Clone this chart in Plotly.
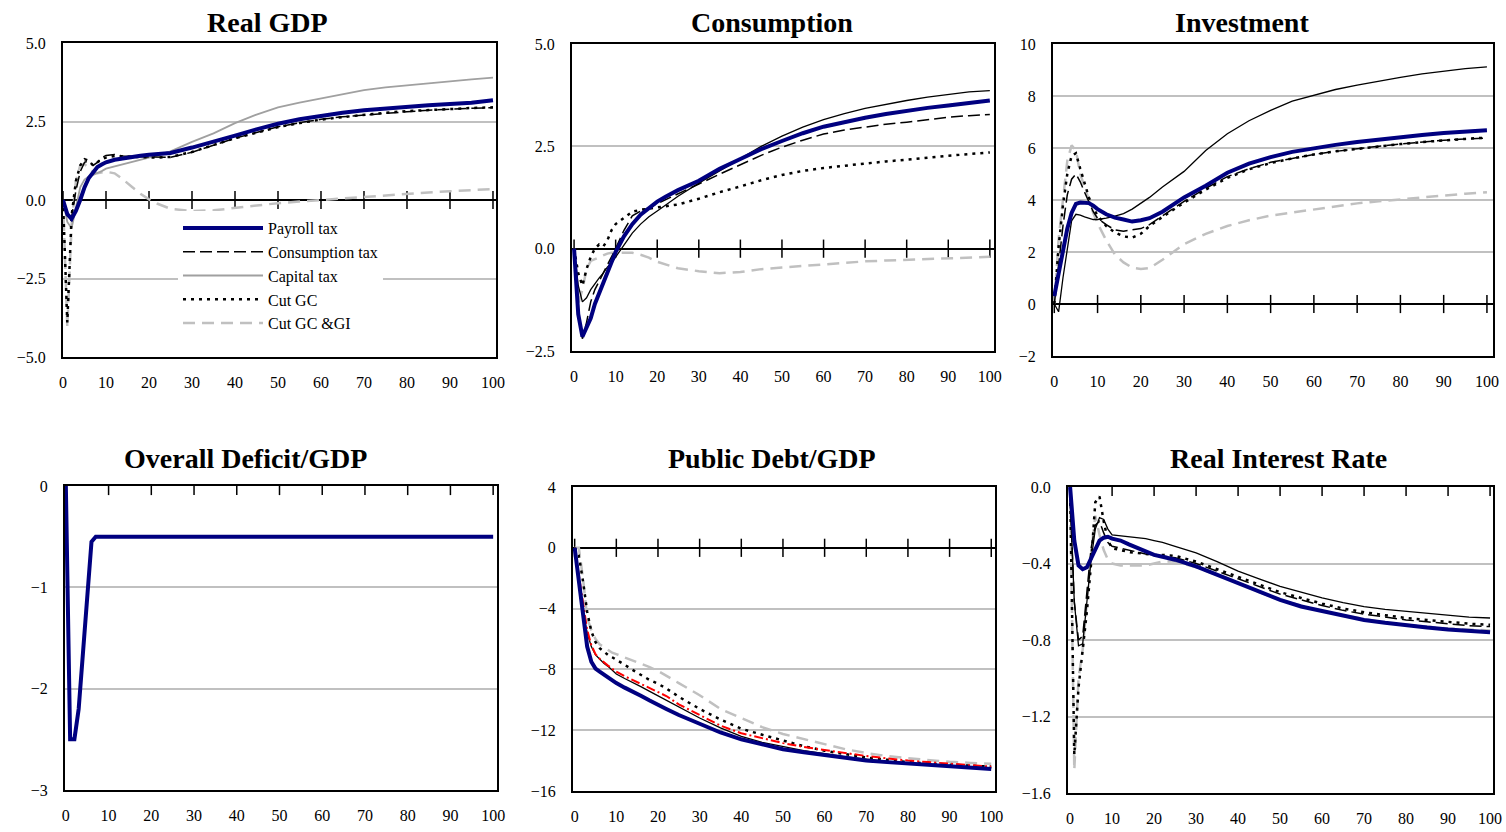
import plotly.graph_objects as go

# ---------------- data ----------------
YEARS = [0, 1, 2, 3, 4, 5, 6, 7, 8, 9, 10, 12, 14, 16, 18, 20, 22, 25,
         30, 35, 40, 45, 50, 55, 60, 65, 70, 75, 80, 85, 90, 95, 100]
XTICKS = [0, 10, 20, 30, 40, 50, 60, 70, 80, 90, 100]

SERIES_NAMES = {"payroll": "Payroll tax", "cons": "Consumption tax", "cap": "Capital tax",
                "cutgc": "Cut GC", "cutgi": "Cut GC &GI"}

# Real GDP
gdp_payroll = [0.0, -0.45, -0.6, -0.35, 0.0, 0.4, 0.7, 0.88, 1.05, 1.13, 1.2,
               1.28, 1.33, 1.37, 1.41, 1.44, 1.46, 1.5,
               1.67, 1.85, 2.05, 2.25, 2.43, 2.57, 2.68, 2.78, 2.86, 2.92, 2.97, 3.02, 3.06, 3.1, 3.18]
gdp_cons = [0.0, -0.5, -0.55, 0.3, 0.9, 1.2, 1.25, 1.1, 1.2, 1.35, 1.42,
            1.45, 1.4, 1.38, 1.38, 1.37, 1.36, 1.36,
            1.52, 1.75, 1.97, 2.15, 2.33, 2.46, 2.57, 2.65, 2.71, 2.77, 2.81, 2.86, 2.9, 2.92, 2.94]
gdp_cap = [0.0, -0.7, -0.9, -0.2, 0.4, 0.65, 0.75, 0.8, 0.85, 0.92, 1.0,
           1.07, 1.13, 1.2, 1.28, 1.35, 1.42, 1.55,
           1.85, 2.12, 2.45, 2.72, 2.95, 3.1, 3.24, 3.38, 3.5, 3.59, 3.66, 3.72, 3.78, 3.84, 3.9]
gdp_cutgc = [0.0, -3.9, -0.5, 0.6, 1.1, 1.3, 1.25, 1.1, 1.2, 1.3, 1.35,
             1.4, 1.38, 1.38, 1.37, 1.36, 1.35, 1.37,
             1.53, 1.76, 1.97, 2.14, 2.32, 2.45, 2.56, 2.64, 2.72, 2.78, 2.83, 2.87, 2.91, 2.93, 2.95]
gdp_cutgi = [0.0, -4.05, -0.8, 0.6, 1.1, 1.15, 1.0, 0.9, 0.85, 0.88, 0.9,
             0.85, 0.65, 0.42, 0.2, 0.02, -0.12, -0.28,
             -0.35, -0.33, -0.25, -0.17, -0.1, -0.05, 0.0, 0.05, 0.11, 0.16, 0.2, 0.24, 0.28, 0.31, 0.35]

# Consumption
cons_payroll = [0.0, -1.6, -2.15, -1.95, -1.7, -1.35, -1.1, -0.85, -0.62, -0.35, -0.08,
                0.3, 0.6, 0.83, 1.0, 1.15, 1.27, 1.43,
                1.66, 1.95, 2.19, 2.43, 2.63, 2.82, 2.98, 3.1, 3.2, 3.29, 3.37, 3.44, 3.5, 3.56, 3.62]
cons_cons = [0.0, -1.5, -2.2, -1.8, -1.3, -1.0, -0.8, -0.6, -0.4, -0.2, 0.0,
             0.45, 0.8, 0.92, 1.0, 1.1, 1.2, 1.35,
             1.58, 1.82, 2.05, 2.28, 2.48, 2.65, 2.8, 2.9, 2.97, 3.04, 3.09, 3.15, 3.21, 3.25, 3.28]
cons_cap = [0.0, -0.9, -1.3, -1.2, -1.0, -0.85, -0.72, -0.6, -0.45, -0.35, -0.2,
            0.1, 0.38, 0.6, 0.78, 0.92, 1.07, 1.28,
            1.6, 1.9, 2.2, 2.5, 2.75, 2.97, 3.15, 3.3, 3.43, 3.53, 3.62, 3.7, 3.77, 3.83, 3.86]
cons_cutgc = [0.0, -0.6, -0.9, -0.5, -0.2, 0.0, 0.1, 0.05, 0.2, 0.45, 0.6,
              0.75, 0.9, 0.95, 0.98, 1.0, 1.03, 1.08,
              1.22, 1.38, 1.52, 1.67, 1.8, 1.9, 1.97, 2.03, 2.08, 2.13, 2.17, 2.22, 2.27, 2.31, 2.35]
cons_cutgi = [0.0, -1.35, -1.0, -0.5, -0.3, -0.25, -0.2, -0.15, -0.12, -0.1, -0.1,
              -0.1, -0.1, -0.15, -0.22, -0.32, -0.38, -0.48,
              -0.55, -0.6, -0.57, -0.5, -0.46, -0.42, -0.38, -0.35, -0.31, -0.29, -0.27, -0.25, -0.23, -0.21, -0.2]

# Investment
inv_payroll = [0.3, 1.2, 2.1, 2.9, 3.5, 3.85, 3.9, 3.9, 3.88, 3.78, 3.65,
               3.45, 3.32, 3.25, 3.17, 3.22, 3.3, 3.55,
               4.1, 4.55, 5.05, 5.4, 5.65, 5.85, 6.0, 6.12, 6.23, 6.33, 6.43, 6.5, 6.58, 6.63, 6.68]
inv_cons = [0.0, 1.5, 3.0, 4.2, 4.8, 5.0, 4.7, 4.3, 3.9, 3.55, 3.3,
            3.05, 2.85, 2.8, 2.85, 2.9, 3.05, 3.4,
            3.95, 4.45, 4.9, 5.2, 5.45, 5.6, 5.75, 5.87, 5.98, 6.07, 6.15, 6.23, 6.3, 6.35, 6.38]
inv_cap = [0.0, -0.3, 1.0, 2.2, 3.2, 3.45, 3.42, 3.35, 3.3, 3.25, 3.25,
           3.3, 3.38, 3.48, 3.65, 3.88, 4.1, 4.5,
           5.1, 5.9, 6.55, 7.05, 7.45, 7.8, 8.03, 8.25, 8.42, 8.58, 8.72, 8.85, 8.95, 9.05, 9.12]
inv_cutgc = [0.0, 2.2, 3.8, 5.0, 5.7, 5.8, 5.2, 4.6, 4.1, 3.7, 3.4,
             3.0, 2.75, 2.6, 2.55, 2.7, 3.0, 3.35,
             3.9, 4.4, 4.85, 5.18, 5.42, 5.6, 5.75, 5.87, 5.97, 6.07, 6.15, 6.23, 6.3, 6.35, 6.4]
inv_cutgi = [0.0, 2.5, 4.0, 5.5, 6.1, 5.9, 5.0, 4.5, 4.0, 3.5, 3.1,
             2.45, 1.9, 1.6, 1.4, 1.35, 1.38, 1.7,
             2.3, 2.7, 3.0, 3.22, 3.4, 3.52, 3.63, 3.75, 3.87, 3.95, 4.03, 4.1, 4.17, 4.24, 4.3]

# Overall deficit / GDP
def_payroll = [0.0, -2.5, -2.5, -2.2, -1.65, -1.1, -0.55, -0.5, -0.5, -0.5, -0.5,
               -0.5, -0.5, -0.5, -0.5, -0.5, -0.5, -0.5,
               -0.5, -0.5, -0.5, -0.5, -0.5, -0.5, -0.5, -0.5, -0.5, -0.5, -0.5, -0.5, -0.5, -0.5, -0.5]

# Public debt / GDP
debt_payroll = [0.0, -2.2, -4.6, -6.5, -7.5, -7.95, -8.15, -8.35, -8.55, -8.75, -8.9,
                -9.2, -9.45, -9.75, -10.05, -10.35, -10.6, -11.0,
                -11.6, -12.15, -12.6, -12.95, -13.25, -13.45, -13.65, -13.85, -14.0, -14.1, -14.2, -14.3, -14.4, -14.5, -14.55]
debt_cons = [0.0, -1.8, -3.9, -5.4, -6.4, -7.0, -7.3, -7.55, -7.75, -7.95, -8.15,
             -8.45, -8.7, -8.95, -9.2, -9.5, -9.75, -10.3,
             -11.0, -11.7, -12.2, -12.55, -12.85, -13.1, -13.3, -13.5, -13.7, -13.85, -14.0, -14.1, -14.2, -14.3, -14.4]
debt_cap = [0.0, -2.0, -4.2, -5.6, -6.5, -7.05, -7.35, -7.6, -7.8, -8.05, -8.3,
            -8.6, -8.85, -9.15, -9.45, -9.75, -10.05, -10.5,
            -11.2, -11.85, -12.4, -12.8, -13.1, -13.35, -13.55, -13.75, -13.9, -14.05, -14.15, -14.25, -14.35, -14.45, -14.5]
debt_cutgc = [0.0, -0.5, -2.2, -4.2, -5.5, -6.2, -6.6, -6.85, -7.05, -7.2, -7.35,
              -7.7, -8.05, -8.4, -8.7, -8.95, -9.25, -9.8,
              -10.6, -11.3, -11.9, -12.3, -12.7, -13.05, -13.35, -13.6, -13.8, -13.95, -14.1, -14.2, -14.28, -14.35, -14.4]
debt_cutgi = [0.0, 0.0, -2.0, -4.6, -5.4, -6.0, -6.35, -6.55, -6.75, -6.9, -7.0,
              -7.2, -7.4, -7.6, -7.85, -8.1, -8.4, -8.9,
              -9.7, -10.6, -11.2, -11.8, -12.25, -12.6, -12.95, -13.25, -13.5, -13.7, -13.85, -13.98, -14.08, -14.15, -14.2]

# Real interest rate
int_payroll = [0.0, -0.28, -0.41, -0.43, -0.42, -0.37, -0.32, -0.28, -0.265, -0.26, -0.27,
               -0.28, -0.3, -0.32, -0.34, -0.355, -0.365, -0.38,
               -0.415, -0.46, -0.5, -0.55, -0.59, -0.625, -0.65, -0.675, -0.695, -0.71, -0.725, -0.735, -0.745, -0.755, -0.76]
int_cons = [-0.05, -0.6, -0.8, -0.78, -0.55, -0.32, -0.2, -0.18, -0.24, -0.29, -0.31,
            -0.32, -0.33, -0.34, -0.35, -0.355, -0.36, -0.37,
            -0.4, -0.44, -0.48, -0.52, -0.56, -0.59, -0.62, -0.645, -0.665, -0.68, -0.695, -0.705, -0.715, -0.725, -0.73]
int_cap = [-0.05, -0.6, -0.83, -0.82, -0.6, -0.38, -0.22, -0.16, -0.17, -0.22, -0.25,
           -0.255, -0.26, -0.265, -0.27, -0.28, -0.29, -0.31,
           -0.345, -0.39, -0.44, -0.48, -0.52, -0.55, -0.58, -0.605, -0.625, -0.64, -0.65, -0.66, -0.67, -0.68, -0.685]
int_cutgc = [0.0, -1.4, -1.05, -0.85, -0.65, -0.4, -0.08, -0.05, -0.18, -0.28, -0.32,
             -0.33, -0.34, -0.345, -0.35, -0.355, -0.355, -0.36,
             -0.39, -0.43, -0.47, -0.51, -0.55, -0.58, -0.61, -0.635, -0.655, -0.67, -0.685, -0.695, -0.705, -0.715, -0.72]
int_cutgi = [0.0, -1.48, -1.0, -0.85, -0.6, -0.35, -0.15, -0.25, -0.33, -0.38, -0.4,
             -0.41, -0.41, -0.41, -0.41, -0.4, -0.39, -0.39,
             -0.42, -0.46, -0.5, -0.55, -0.59, -0.62, -0.65, -0.67, -0.69, -0.71, -0.72, -0.73, -0.74, -0.745, -0.75]

# ---------------- styling / layout ----------------
W, H = 1506, 832
FONT = "Liberation Serif"
NAVY = "#000080"

STYLE = {
    "payroll": dict(color=NAVY, width=4, dash="solid"),
    "cons": dict(color="black", width=1.5, dash="12px,5px"),
    "cap": dict(color="black", width=1.3, dash="solid"),
    "cutgc": dict(color="black", width=2.5, dash="3px,5px"),
    "cutgi": dict(color="#c0c0c0", width=2.5, dash="12px,7px"),
}
GDP_OVERRIDE = {"cap": dict(color="#a0a0a0", width=1.8, dash="solid")}
DEBT_OVERRIDE = {"cons": dict(color="#ff0000", width=2, dash="9px,3px,2px,3px")}

PANELS = [
    dict(title="Real GDP", px=(63, 496, 43, 357), xr=[0, 100.7], yr=[-5, 5],
         yt=[-5, -2.5, 0, 2.5, 5], dec=1, tpos=(267, 23), override=GDP_OVERRIDE,
         data=dict(payroll=gdp_payroll, cons=gdp_cons, cap=gdp_cap, cutgc=gdp_cutgc, cutgi=gdp_cutgi)),
    dict(title="Consumption", px=(572, 994, 44, 351), xr=[-0.5, 101], yr=[-2.5, 5],
         yt=[-2.5, 0, 2.5, 5], dec=1, tpos=(772, 23), override={},
         data=dict(payroll=cons_payroll, cons=cons_cons, cap=cons_cap, cutgc=cons_cutgc, cutgi=cons_cutgi)),
    dict(title="Investment", px=(1053, 1493, 44, 356), xr=[-0.3, 101.4], yr=[-2, 10],
         yt=[-2, 0, 2, 4, 6, 8, 10], dec=0, tpos=(1242, 23), override={},
         data=dict(payroll=inv_payroll, cons=inv_cons, cap=inv_cap, cutgc=inv_cutgc, cutgi=inv_cutgi)),
    dict(title="Overall Deficit/GDP", px=(65, 497, 486, 790), xr=[-0.2, 100.9], yr=[-3, 0],
         yt=[-3, -2, -1, 0], dec=0, tpos=(245, 458), override={},
         data=dict(payroll=def_payroll)),
    dict(title="Public Debt/GDP", px=(573, 995, 487, 791), xr=[-0.4, 100.9], yr=[-16, 4],
         yt=[-16, -12, -8, -4, 0, 4], dec=0, tpos=(772, 458), override=DEBT_OVERRIDE,
         data=dict(payroll=debt_payroll, cons=debt_cons, cap=debt_cap, cutgc=debt_cutgc, cutgi=debt_cutgi)),
    dict(title="Real Interest Rate", px=(1068, 1493, 487, 793), xr=[-0.5, 100.7], yr=[-1.6, 0],
         yt=[-1.6, -1.2, -0.8, -0.4, 0], dec=1, tpos=(1278, 458), override={},
         data=dict(payroll=int_payroll, cons=int_cons, cap=int_cap, cutgc=int_cutgc, cutgi=int_cutgi)),
]

DRAW_ORDER = ["cutgi", "cap", "cutgc", "cons", "payroll"]
LEGEND_RANK = {"payroll": 1, "cons": 2, "cap": 3, "cutgc": 4, "cutgi": 5}


def tick_label(v, dec):
    s = f"{abs(v):.{dec}f}"
    return ("\u2212" + s) if v < 0 else s


fig = go.Figure()
annotations = []
layout_axes = {}

for i, p in enumerate(PANELS, start=1):
    xs = "" if i == 1 else str(i)
    xref, yref = "x" + xs, "y" + xs
    # tick marks sitting on the zero line
    fig.add_trace(go.Scatter(
        x=XTICKS, y=[0] * len(XTICKS), mode="markers", xaxis=xref, yaxis=yref,
        marker=dict(symbol="line-ns", size=13, line=dict(color="black", width=1.5)),
        showlegend=False, hoverinfo="skip", cliponaxis=True))
    for key in DRAW_ORDER:
        if key not in p["data"]:
            continue
        st = dict(STYLE[key])
        st.update(p["override"].get(key, {}))
        fig.add_trace(go.Scatter(
            x=YEARS, y=p["data"][key], mode="lines", name=SERIES_NAMES[key],
            xaxis=xref, yaxis=yref, line=st,
            showlegend=(i == 1), legendrank=LEGEND_RANK[key]))
    x0, x1, y0, y1 = p["px"]
    layout_axes["xaxis" + xs] = dict(
        domain=[x0 / W, x1 / W], range=p["xr"], tickvals=XTICKS, showgrid=False,
        zeroline=False, showline=True, mirror=True, linecolor="black", linewidth=2,
        ticks="outside", ticklen=10, tickcolor="rgba(0,0,0,0)", anchor=yref, automargin=False,
        tickfont=dict(family=FONT, size=16, color="black"), fixedrange=True)
    layout_axes["yaxis" + xs] = dict(
        domain=[1 - y1 / H, 1 - y0 / H], range=p["yr"], tickvals=p["yt"],
        ticktext=[tick_label(v, p["dec"]) for v in p["yt"]],
        showgrid=True, gridcolor="#c0c0c0", gridwidth=1.5,
        zeroline=True, zerolinecolor="black", zerolinewidth=1.5,
        showline=True, mirror=True, linecolor="black", linewidth=2,
        ticks="outside", ticklen=12, tickcolor="rgba(0,0,0,0)", anchor=xref, automargin=False,
        tickfont=dict(family=FONT, size=16, color="black"), fixedrange=True)
    tx, ty = p["tpos"]
    annotations.append(dict(
        text="<b>" + p["title"] + "</b>", x=tx / W, y=1 - ty / H, xref="paper", yref="paper",
        xanchor="center", yanchor="middle", showarrow=False,
        font=dict(family=FONT, size=28, color="black")))

fig.update_layout(
    template="none",
    width=W, height=H, margin=dict(l=0, r=0, t=0, b=0, autoexpand=False),
    paper_bgcolor="white", plot_bgcolor="white",
    annotations=annotations,
    legend=dict(x=178 / W, y=1 - 211 / H, xanchor="left", yanchor="top",
                bgcolor="white", borderwidth=0, itemwidth=80,
                font=dict(family=FONT, size=16, color="black"), tracegroupgap=0),
    **layout_axes)

fig.write_html("out.html", config={"displayModeBar": False},
               post_script="document.body.style.margin='0';document.body.style.overflow='hidden';")
